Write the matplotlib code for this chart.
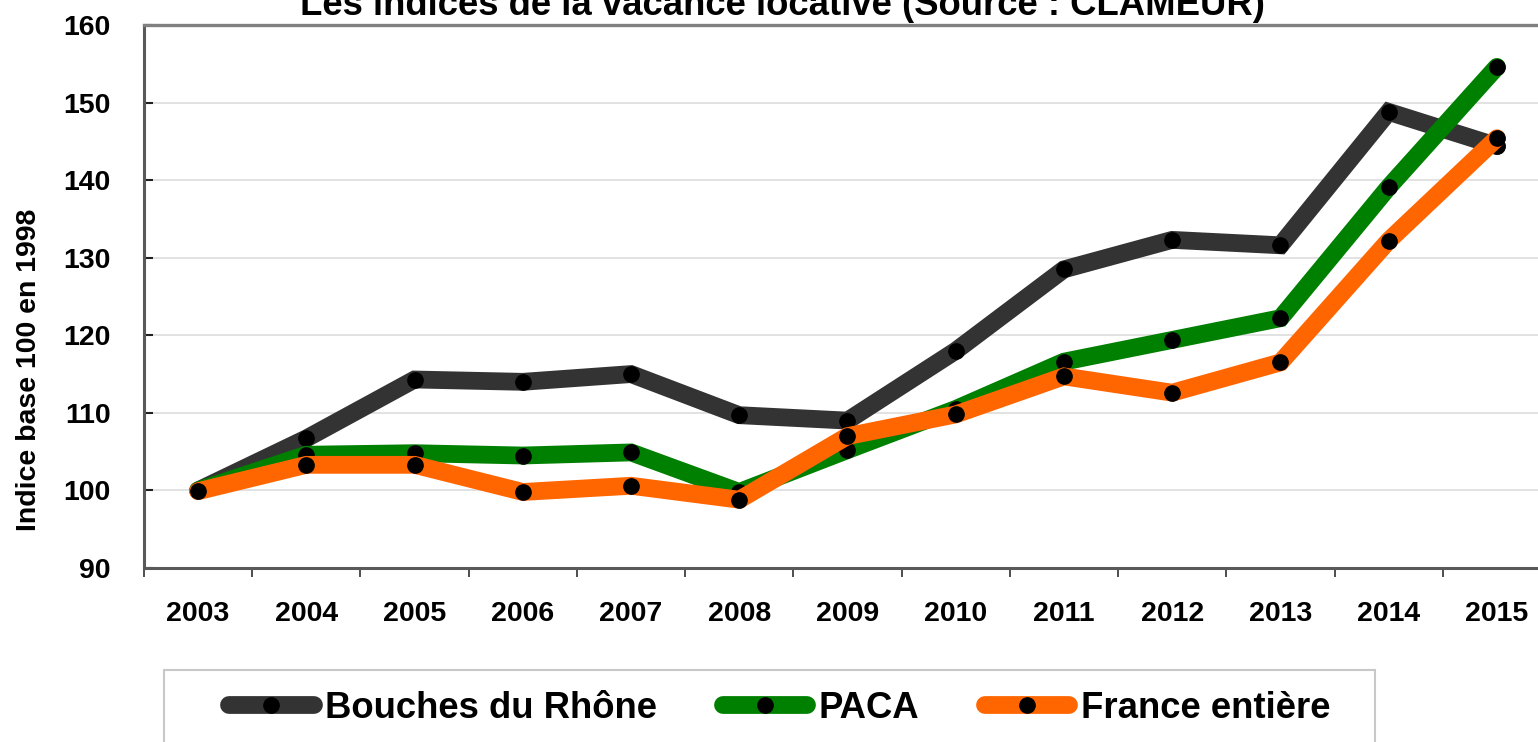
import matplotlib
matplotlib.use("Agg")
import matplotlib.pyplot as plt
from matplotlib import font_manager as fm
from matplotlib.patches import Rectangle

years = ["2003", "2004", "2005", "2006", "2007", "2008", "2009",
         "2010", "2011", "2012", "2013", "2014", "2015"]
bouches = [100, 106.7, 114.3, 114.0, 115.0, 109.7, 109.0, 118.0, 128.5, 132.3, 131.6, 148.8, 144.4]
paca = [100, 104.6, 104.8, 104.5, 104.9, 99.8, 105.2, 110.5, 116.6, 119.4, 122.2, 139.1, 154.6]
france = [99.9, 103.3, 103.3, 99.8, 100.6, 98.8, 107.0, 109.8, 114.7, 112.6, 116.5, 132.2, 145.4]
series_names = ["Bouches du Rhône", "PACA", "France entière"]
series_colors = ["#333333", "#008000", "#ff6600"]
yticks = [90, 100, 110, 120, 130, 140, 150, 160]
title = "Les indices de la vacance locative (Source : CLAMEUR)"
ylabel = "Indice base 100 en 1998"

installed = {f.name for f in fm.fontManager.ttflist}
if "Liberation Sans Narrow" in installed:
    NARROW = ["Liberation Sans Narrow", "DejaVu Sans"]
    k = 1.0
else:
    NARROW = ["Liberation Sans", "DejaVu Sans"]
    k = 0.82
BOLD = ["Liberation Sans", "DejaVu Sans"]

W, H = 1538, 742
fig = plt.figure(figsize=(W / 100, H / 100), dpi=100)
fig.patch.set_facecolor("white")

def fx(px):
    return px / W

def fy(py):
    return 1 - py / H

ax = fig.add_axes([fx(144), fy(568), fx(1551) - fx(144), fy(25) - fy(568)])
x = list(range(len(years)))

lines = []
for vals, name, col in zip([bouches, paca, france], series_names, series_colors):
    ln, = ax.plot(x, vals, color=col, lw=12.8, marker="o", markersize=11,
                  markerfacecolor="black", markeredgecolor="black",
                  solid_capstyle="round", solid_joinstyle="miter",
                  label=name, zorder=3)
    lines.append(ln)

tick_fs = 25 * k
ax.set_xlim(-0.5, len(years) - 0.5)
ax.set_ylim(90, 160)
ax.set_yticks(yticks)
ax.set_yticklabels([str(v) for v in yticks], fontfamily=NARROW,
                   fontweight="bold", fontsize=tick_fs)
ax.set_xticks(x)
ax.set_xticklabels(years, fontfamily=NARROW, fontweight="bold", fontsize=tick_fs)
ax.set_xticks([i - 0.5 for i in range(len(years) + 1)], minor=True)

ax.tick_params(axis="x", which="major", length=0, pad=24)
ax.tick_params(axis="x", which="minor", direction="out", length=6.5,
               width=1.3, color="#404040")
ax.tick_params(axis="y", which="major", direction="in", length=6.5,
               width=1.5, color="#202020", pad=24)

for v in yticks[1:-1]:
    ax.axhline(v, color="#dddddd", lw=1.2, zorder=1)

ax.spines["top"].set_color("#808080")
ax.spines["top"].set_linewidth(2.4)
ax.spines["left"].set_color("#595959")
ax.spines["left"].set_linewidth(2.2)
ax.spines["bottom"].set_color("#595959")
ax.spines["bottom"].set_linewidth(2.2)
ax.spines["right"].set_visible(False)

fig.text(fx(782), fy(15), title, ha="center", va="baseline",
         fontfamily=NARROW, fontweight="bold", fontsize=32 * k)
fig.text(fx(29), fy(370), ylabel, ha="center", va="center", rotation=90,
         fontfamily=BOLD, fontweight="bold", fontsize=20.5)

# legend frame (extends below the figure edge)
fig.patches.append(Rectangle((fx(164), fy(760)), fx(1375) - fx(164), fy(670) - fy(760),
                             transform=fig.transFigure, facecolor="white",
                             edgecolor="#c8c8c8", lw=1.5, zorder=0))
leg_fs = 32 * k
fig.legend(handles=lines, labels=series_names, loc="center left",
           bbox_to_anchor=(fx(229), fy(708)), ncol=3, frameon=False,
           handlelength=61 / leg_fs, handletextpad=8.3 / leg_fs,
           columnspacing=47 / leg_fs,
           borderaxespad=0, borderpad=0, numpoints=1,
           prop={"family": NARROW, "weight": "bold", "size": leg_fs})

fig.savefig("out.png", dpi=100, facecolor="white")
